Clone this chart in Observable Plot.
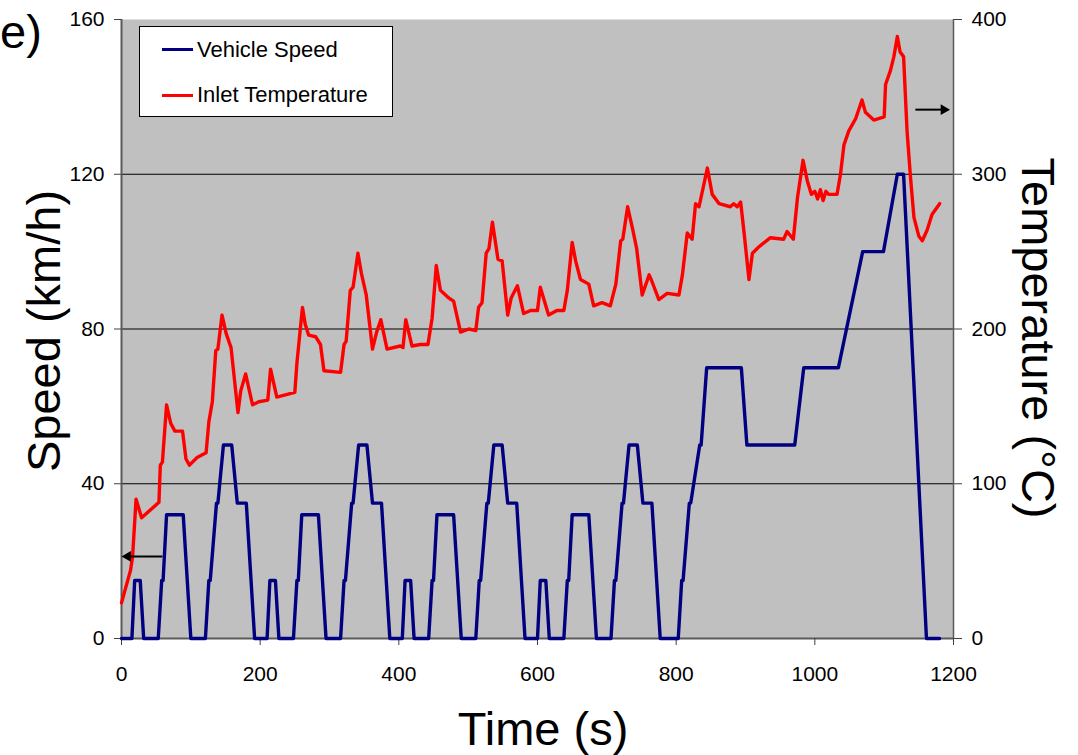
<!DOCTYPE html>
<html><head><meta charset="utf-8">
<script src="https://cdn.jsdelivr.net/npm/d3@7"></script>
<script src="https://cdn.jsdelivr.net/npm/@observablehq/plot@0.6"></script>
<style>
body{margin:0;background:#fff;font-family:"Liberation Sans",Arial,sans-serif;}
#wrap{position:relative;width:1078px;height:755px;overflow:hidden;}
.t{position:absolute;white-space:nowrap;color:#000;line-height:1;}
.rot{transform:translate(-50%,-50%) rotate(-90deg);}
.rot2{transform:translate(-50%,-50%) rotate(90deg);}
.legend{position:absolute;left:139px;top:26px;width:252px;height:89px;background:#fff;border:1px solid #000;}
.sw{position:absolute;left:22px;width:31px;height:3px;}
.lt{position:absolute;left:57px;font-size:22px;line-height:22px;white-space:nowrap;}
</style></head><body>
<div id="wrap"></div>
<script>
// Vehicle speed (km/h) vs time (s)
const speedTime = [0,15,19,27,32,53,58,60,65,89,100,121,126,128,137,139,147,159,167,180,192,
  210,214,222,227,248,253,255,260,284,295,316,321,323,332,334,342,354,362,375,387,
  405,409,417,422,443,448,450,455,479,490,511,516,518,527,529,537,549,557,570,582,
  600,604,612,617,638,643,645,650,674,685,706,711,713,722,724,732,744,752,765,777,
  803,808,810,819,821,834,836,844,894,902,971,984,1034,1069,1099,1119,1128,1161,1180];
const speedKmh = [0,0,15,15,0,0,15,15,32,32,0,0,15,15,35,35,50,50,35,35,0,
  0,15,15,0,0,15,15,32,32,0,0,15,15,35,35,50,50,35,35,0,
  0,15,15,0,0,15,15,32,32,0,0,15,15,35,35,50,50,35,35,0,
  0,15,15,0,0,15,15,32,32,0,0,15,15,35,35,50,50,35,35,0,
  0,15,15,35,35,50,50,70,70,50,50,70,70,100,100,120,120,0,0];

// Inlet temperature (°C) vs time (s)
const tempTime = [0,13,16,21,29,54,56,59,65,71,77,88,93,98,109,122,126,131,136,139,145,151,158,168,172,179,189,198,211,215,224,250,253,261,265,270,280,287,292,316,321,324,330,334,341,346,353,362,368,374,383,402,406,410,419,431,442,448,454,460,472,479,489,501,511,515,520,526,530,535,543,549,557,562,571,580,590,600,604,616,628,638,643,650,655,662,674,681,693,705,713,720,723,730,737,743,751,761,764,775,787,804,809,816,823,828,833,845,852,862,878,883,888,893,898,905,910,919,936,955,960,969,975,983,989,995,1000,1004,1008,1012,1016,1020,1032,1037,1042,1049,1059,1068,1073,1085,1100,1102,1109,1114,1119,1123,1128,1133,1138,1143,1150,1155,1162,1169,1180];
const tempC = [23,44,53,90,78,88,112,114,151,139,134,134,116,112,117,120,140,153,186,187,209,197,188,146,160,171,151,153,154,174,156,159,178,214,203,196,195,190,173,172,190,192,225,227,249,236,222,187,198,206,187,189,188,206,189,190,190,207,241,225,220,218,198,200,199,214,217,249,252,269,245,244,209,220,228,210,212,212,227,209,212,212,225,256,244,232,229,215,217,215,229,257,258,279,265,252,222,235,232,219,223,222,235,262,258,281,279,304,287,281,279,281,279,282,262,232,249,253,259,258,263,258,285,309,296,287,289,284,290,283,289,287,287,300,319,328,336,348,340,335,337,358,367,376,389,379,376,328,298,272,260,257,264,274,281];

const speedTicks = [0,40,80,120,160];
const tempTicks = [0,100,200,300,400];
const timeTicks = [0,200,400,600,800,1000,1200];
const gridLevels = [40,80,120];
const speedMax = 160, tempMax = 400, timeMax = 1200;

// direction arrows (annotation): time from/to, speed-axis level, head rotation
const arrowFrom = [59,1145];
const arrowTo = [9,1186];
const arrowLevel = [21.2,136.7];
const arrowDir = [-90,90];

const k = speedMax / tempMax;
const speedData = speedTime.map((t,i)=>({t, v: speedKmh[i]}));
const tempData = tempTime.map((t,i)=>({t, v: tempC[i]*k}));
const arrows = arrowFrom.map((f,i)=>({from:f, to:arrowTo[i], level:arrowLevel[i], dir:arrowDir[i]}));

const plot = Plot.plot({
  width:1078, height:755,
  marginLeft:121, marginRight:125, marginTop:19, marginBottom:117,
  x:{domain:[0,timeMax]},
  y:{domain:[0,speedMax]},
  style:{fontFamily:"Liberation Sans, Arial, sans-serif", background:"transparent", color:"#000"},
  marks:[
    Plot.frame({fill:"#c0c0c0", stroke:null}),
    Plot.ruleY(gridLevels, {stroke:"#000", strokeWidth:1}),
    Plot.ruleX([0], {stroke:"#5a5a5a", strokeWidth:2}),
    Plot.ruleX([timeMax], {stroke:"#5a5a5a", strokeWidth:1.5}),
    Plot.ruleY([0], {stroke:"#5a5a5a", strokeWidth:2}),
    Plot.axisY({ticks:speedTicks, anchor:"left", tickSize:7, tickPadding:10, fontSize:21, label:null, tickFormat:d=>String(d), stroke:"#404040"}),
    Plot.axisY({ticks:tempTicks.map(d=>d*k), anchor:"right", tickSize:8, tickPadding:10, fontSize:21, label:null, tickFormat:d=>String(Math.round(d/k)), stroke:"#404040"}),
    Plot.axisX({ticks:timeTicks, anchor:"bottom", tickSize:7, tickPadding:21, fontSize:21, label:null, tickFormat:d=>String(d), stroke:"#404040"}),
    Plot.line(speedData, {x:"t", y:"v", stroke:"#000080", strokeWidth:3.4, strokeLinejoin:"round"}),
    Plot.line(tempData, {x:"t", y:"v", stroke:"#ff0000", strokeWidth:3.4, strokeLinejoin:"round"}),
    Plot.link(arrows, {x1:"from", x2:"to", y1:"level", y2:"level", stroke:"#000", strokeWidth:2}),
    Plot.dot(arrows, {x:"to", y:"level", symbol:"triangle", rotate:"dir", r:4, fill:"#000", stroke:null})
  ]
});

const wrap = document.getElementById("wrap");
wrap.appendChild(plot);
plot.style.position = "absolute"; plot.style.left = "0"; plot.style.top = "0";

function addText(txt, css, cls){
  const d = document.createElement("div");
  d.className = "t" + (cls ? " " + cls : "");
  d.textContent = txt;
  Object.assign(d.style, css);
  wrap.appendChild(d);
  return d;
}
addText("e)", {left:"0px", top:"8px", fontSize:"47px"});
addText("Speed (km/h)", {left:"43px", top:"331px", fontSize:"47px"}, "rot");
addText("Temperature (°C)", {left:"1038px", top:"338px", fontSize:"47px"}, "rot2");
addText("Time (s)", {left:"543px", top:"728px", fontSize:"47px", transform:"translate(-50%,-50%)"});

const lg = document.createElement("div");
lg.className = "legend";
lg.innerHTML = '<div class="sw" style="top:21px;background:#000080"></div><div class="lt" style="top:12px">Vehicle Speed</div>' +
  '<div class="sw" style="top:67px;background:#ff0000"></div><div class="lt" style="top:57px">Inlet Temperature</div>';
wrap.appendChild(lg);
</script>
</body></html>
